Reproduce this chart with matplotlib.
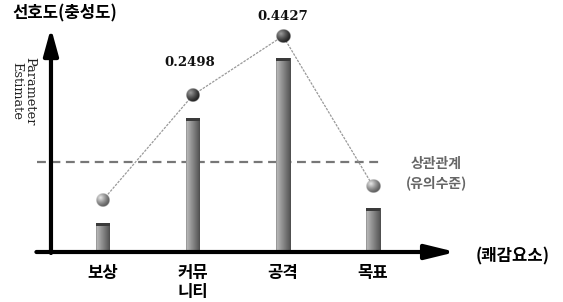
import matplotlib
matplotlib.use('Agg')
import matplotlib.pyplot as plt
import numpy as np

plt.rcParams['font.family'] = ['Noto Sans CJK KR', 'DejaVu Sans']

categories = ['보상', '커뮤\n니티', '공격', '목표']
bar_height = [29, 134, 194, 44]
point_value = [52, 157, 216, 66]
point_label = ['', '0.2498', '0.4427', '']
point_dark = [False, True, True, False]
threshold = 90

fig = plt.figure(figsize=(5.63, 3.02), dpi=100)
ax = fig.add_axes([0, 0, 1, 1])
ax.set_axis_off()

xx = np.arange(len(categories))
bw = 7 / 90.0  # half bar width in data units


def bar_img():
    cols = np.linspace(0, 1, 30)
    g = 0.74 - 0.42 * cols
    g[0] = 0.48
    g[-1] = 0.30
    return np.tile(g, (10, 1))


def sphere_img(dark):
    n = 41
    u, v = np.meshgrid(np.linspace(-1, 1, n), np.linspace(-1, 1, n))
    r = np.sqrt(u ** 2 + v ** 2)
    d = np.sqrt((u + 0.35) ** 2 + (v - 0.35) ** 2)
    t = np.clip(1 - d / 1.45, 0, 1) ** 1.3
    if dark:
        lo, hi = 0.12, 0.62
    else:
        lo, hi = 0.35, 0.92
    c = lo + (hi - lo) * t
    rgba = np.zeros((n, n, 4))
    rgba[..., 0] = c
    rgba[..., 1] = c
    rgba[..., 2] = c
    rgba[..., 3] = np.clip((1 - r) * 15, 0, 1)
    return rgba


# threshold line
ax.plot([-0.733, 3.09], [threshold, threshold], color='#777777', lw=1.6,
        linestyle=(0, (4, 2.5)), zorder=1)

# bars with a dark cap
for i in range(len(xx)):
    ax.imshow(bar_img(), cmap='gray', vmin=0, vmax=1, origin='lower',
              extent=(xx[i] - bw, xx[i] + bw, 0, bar_height[i]),
              aspect='auto', interpolation='bilinear', zorder=2)
ax.bar(xx, 3, bottom=np.array(bar_height) - 3, width=2 * bw, color='#3a3a3a',
       linewidth=0, zorder=2.5)

# connecting line and spheres
ax.plot(xx, point_value, color='#999999', lw=0.9, linestyle=(0, (2, 1)), zorder=3)
for i in range(len(xx)):
    ax.imshow(sphere_img(point_dark[i]), origin='lower',
              extent=(xx[i] - bw, xx[i] + bw, point_value[i] - 7, point_value[i] + 7),
              aspect='auto', interpolation='bilinear', zorder=4)

ax.text(xx[1] - 0.04, 190, point_label[1], ha='center', va='center',
        fontsize=9.5, fontweight='bold', family='DejaVu Serif', color='#111111')
ax.text(xx[2], 236, point_label[2], ha='center', va='center',
        fontsize=9.5, fontweight='bold', family='DejaVu Serif', color='#111111')

# axes arrows
ax.annotate('', xy=(-0.578, 224), xytext=(-0.578, -1),
            arrowprops=dict(arrowstyle='-|>,head_length=0.8,head_width=0.22',
                            lw=3, color='black', mutation_scale=20,
                            shrinkA=0, shrinkB=0), zorder=5)
ax.annotate('', xy=(3.92, 0), xytext=(-0.74, 0),
            arrowprops=dict(arrowstyle='-|>,head_length=0.9,head_width=0.22',
                            lw=3, color='black', mutation_scale=20,
                            shrinkA=0, shrinkB=0), zorder=5)

# category labels
for i in range(len(xx)):
    ax.text(xx[i], -12, categories[i], ha='center', va='top', fontsize=12,
            fontweight='bold', linespacing=1.1)

ax.text(4.55, -4, '(쾌감요소)', ha='center', va='center', fontsize=12, fontweight='bold')
ax.text(3.7, 88, '상관관계', ha='center', va='center', fontsize=10,
        fontweight='bold', color='#666666')
ax.text(3.7, 69, '(유의수준)', ha='center', va='center', fontsize=10,
        fontweight='bold', color='#666666')
ax.text(-0.42, 239, '선호도(충성도)', ha='center', va='center', fontsize=12,
        fontweight='bold')
ax.text(-0.88, 161, 'Parameter\nEstimate', ha='center', va='center', rotation=270,
        fontsize=9.3, family='DejaVu Serif', color='#222222', linespacing=1.0)

ax.set_xlim(-103 / 90.0, 460 / 90.0)
ax.set_ylim(-50, 252)

fig.savefig('out.png', dpi=100)
